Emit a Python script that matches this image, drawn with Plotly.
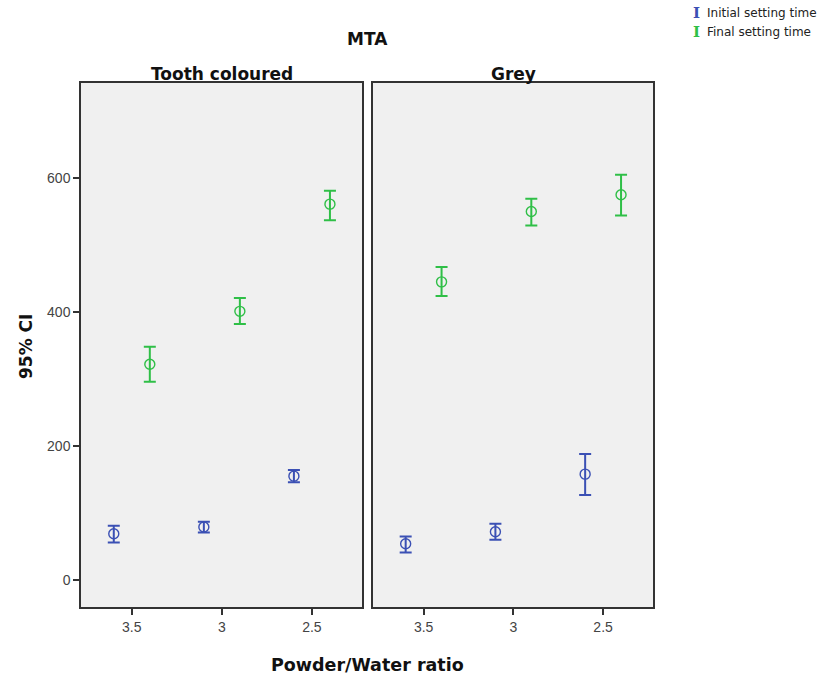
import plotly.graph_objects as go

# Powder/water ratios tested (x categories)
ratios = [3.5, 3.0, 2.5]
tick_labels = ["3.5", "3", "2.5"]

# Setting time: mean and 95% CI bounds, per MTA type
tooth_initial_mean = [69, 79, 155]
tooth_initial_low = [56, 71, 146]
tooth_initial_high = [81, 87, 164]

tooth_final_mean = [322, 401, 561]
tooth_final_low = [296, 382, 537]
tooth_final_high = [348, 421, 581]

grey_initial_mean = [54, 72, 158]
grey_initial_low = [41, 60, 127]
grey_initial_high = [65, 84, 188]

grey_final_mean = [445, 550, 575]
grey_final_low = [424, 529, 544]
grey_final_high = [467, 569, 605]

y_ticks = [0, 200, 400, 600]

BLUE = "#3B50B4"
GREEN = "#2FBF47"
FONT = "Liberation Sans, Arial, sans-serif"
TITLE_FONT = "DejaVu Sans, Verdana, sans-serif"
DODGE = 0.1  # clustered offset around each ratio


def ci_trace(mean, low, high, color, shift, xa, ya, name):
    return go.Scatter(
        x=[r + shift for r in ratios],
        y=mean,
        mode="markers",
        name=name,
        showlegend=False,
        xaxis=xa,
        yaxis=ya,
        marker=dict(symbol="circle-open", size=10, color=color, line=dict(width=1.4, color=color)),
        error_y=dict(
            type="data",
            symmetric=False,
            array=[h - m for h, m in zip(high, mean)],
            arrayminus=[m - l for m, l in zip(mean, low)],
            color=color,
            thickness=2,
            width=6,
        ),
        hoverinfo="skip",
    )


fig = go.Figure()
fig.add_trace(ci_trace(tooth_initial_mean, tooth_initial_low, tooth_initial_high, BLUE, DODGE, "x", "y", "Initial setting time"))
fig.add_trace(ci_trace(tooth_final_mean, tooth_final_low, tooth_final_high, GREEN, -DODGE, "x", "y", "Final setting time"))
fig.add_trace(ci_trace(grey_initial_mean, grey_initial_low, grey_initial_high, BLUE, DODGE, "x2", "y2", "Initial setting time"))
fig.add_trace(ci_trace(grey_final_mean, grey_final_low, grey_final_high, GREEN, -DODGE, "x2", "y2", "Final setting time"))

W, H = 824, 680
yr = [-40.3, 741.8]
xr = [3.782, 2.222]
ydom = [1 - 607 / H, 1 - 83 / H]

axis_common = dict(
    range=xr,
    tickvals=ratios,
    ticktext=tick_labels,
    ticks="outside",
    ticklen=6,
    tickwidth=1.5,
    tickcolor="#333333",
    showline=True,
    linecolor="#333333",
    linewidth=1.5,
    mirror=True,
    showgrid=False,
    zeroline=False,
    tickfont=dict(family=FONT, size=14, color="#444444"),
)

fig.update_layout(
    width=W,
    height=H,
    margin=dict(l=0, r=0, t=0, b=0),
    paper_bgcolor="white",
    plot_bgcolor="#F0F0F0",
    showlegend=False,
    xaxis=dict(domain=[81 / W, 362 / W], anchor="y", **axis_common),
    xaxis2=dict(domain=[373 / W, 653 / W], anchor="y2", **axis_common),
    yaxis=dict(
        domain=ydom,
        anchor="x",
        range=yr,
        tickvals=y_ticks,
        ticks="outside",
        ticklen=6,
        tickwidth=1.5,
        tickcolor="#333333",
        showline=True,
        linecolor="#333333",
        linewidth=1.5,
        mirror=True,
        showgrid=False,
        zeroline=False,
        tickfont=dict(family=FONT, size=14, color="#444444"),
    ),
    yaxis2=dict(
        domain=ydom,
        anchor="x2",
        range=yr,
        showticklabels=False,
        ticks="",
        showline=True,
        linecolor="#333333",
        linewidth=1.5,
        mirror=True,
        showgrid=False,
        zeroline=False,
    ),
)

def label(text, x, y, size=17, bold=True, color="#111111", angle=0, xanchor="center", family=TITLE_FONT):
    fig.add_annotation(
        text=f"<b>{text}</b>" if bold else text,
        x=x / W, y=1 - y / H, xref="paper", yref="paper",
        showarrow=False, xanchor=xanchor, yanchor="middle",
        textangle=angle,
        font=dict(family=family, size=size, color=color),
    )

label("MTA", 367, 39)
label("Tooth coloured", 222, 74)
label("Grey", 513, 74)
label("Powder/Water ratio", 367, 665, size=17.5)
label("95% CI", 26, 347, angle=-90)

# Legend entries
label("I", 696, 13, size=15, color=BLUE, family="DejaVu Serif, serif")
label("I", 696, 32, size=15, color=GREEN, family="DejaVu Serif, serif")
label("Initial setting time", 705, 13, size=12, bold=False, color="#222222", xanchor="left")
label("Final setting time", 705, 32, size=12, bold=False, color="#222222", xanchor="left")

fig.write_html("out.html")
